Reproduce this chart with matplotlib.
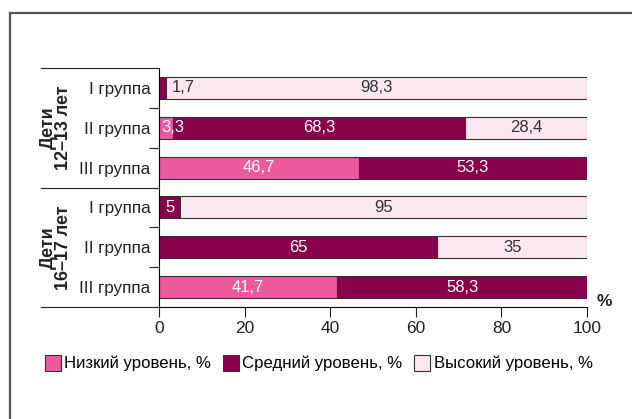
import matplotlib
matplotlib.use("Agg")
import matplotlib.pyplot as plt
from matplotlib.lines import Line2D
from matplotlib.patches import Patch
import numpy as np

plt.rcParams['font.family'] = ['Liberation Sans', 'DejaVu Sans']

# data
groups = ["Дети\n12–13 лет", "Дети\n16–17 лет"]
rows = ["I группа", "II группа", "III группа", "I группа", "II группа", "III группа"]
low = [0, 3.3, 46.7, 0, 0, 41.7]
mid = [1.7, 68.3, 53.3, 5, 65, 58.3]
high = [98.3, 28.4, 0, 95, 35, 0]
series_names = ["Низкий уровень, %", "Средний уровень, %", "Высокий уровень, %"]
xticks = [0, 20, 40, 60, 80, 100]

colors = ["#EC5A9D", "#8A004A", "#FCE7F0"]
text_colors = ["white", "white", "#333333"]

fig = plt.figure(figsize=(6.32, 4.19), dpi=100)
ax = fig.add_axes([159 / 632, 1 - 307 / 419, 428 / 632, 239 / 419])

y = np.arange(len(rows))
left = np.zeros(len(rows))
for vals, col, tcol in zip([low, mid, high], colors, text_colors):
    vals = np.array(vals, dtype=float)
    ax.barh(y, vals, left=left, height=0.55, color=col,
            edgecolor="#333333", linewidth=0.8)
    for yi, l, v in zip(y, left, vals):
        if v <= 0:
            continue
        lbl = f"{v:g}".replace(".", ",")
        if v < 2:
            ax.text(l + v + 1.3, yi, lbl, ha="left", va="center",
                    color="#333333", fontsize=12)
        elif v < 4:
            ax.text(l + 0.6, yi, lbl, ha="left", va="center",
                    color=tcol, fontsize=12)
        else:
            ax.text(l + v / 2, yi, lbl, ha="center", va="center",
                    color=tcol, fontsize=12)
    left = left + vals

ax.set_xlim(0, 100)
ax.set_ylim(len(rows) - 0.5, -0.5)
ax.set_xticks(xticks)
ax.set_xticklabels([str(t) for t in xticks], fontsize=12.5, color="#222222")
ax.set_yticks(y)
ax.set_yticklabels(rows, fontsize=12.3, color="#222222")
ax.tick_params(axis="y", length=0, pad=6)
ax.set_yticks([0.5, 1.5, 3.5, 4.5], minor=True)
ax.tick_params(axis="y", which="minor", length=7, width=0.8, color="#222222")
ax.tick_params(axis="x", length=7, width=0.8, color="#222222", pad=3)

for s in ["top", "right"]:
    ax.spines[s].set_visible(False)
ax.spines["left"].set_linewidth(0.8)
ax.spines["bottom"].set_linewidth(0.8)

# hierarchical label lines
x0 = (41 - 159) / 428
for yy in [-0.5, 2.5, 5.5]:
    ax.add_line(Line2D([x0, 0], [yy, yy], color="#222222", lw=0.8,
                       transform=ax.get_yaxis_transform(), clip_on=False))

# group labels
for g, yc in zip(groups, [1, 4]):
    ax.text((56 - 159) / 428, yc, g, rotation=90, ha="center", va="center",
            fontsize=13, fontweight="bold", linespacing=0.82,
            transform=ax.get_yaxis_transform(), color="#222222")

ax.text(1.023, 0.025, "%", transform=ax.transAxes, ha="left", va="center",
        fontsize=12.5, fontweight="bold", color="#222222")

# legend
handles = [Patch(facecolor=c, edgecolor="#333333", linewidth=0.8) for c in colors]
fig.legend(handles, series_names, loc="center left",
           bbox_to_anchor=(45 / 632, 1 - 363 / 419), ncol=3, frameon=False,
           fontsize=12.1, handlelength=0.95, handleheight=1.1, handletextpad=0.2,
           columnspacing=0.7, borderaxespad=0, borderpad=0)

# outer frame (only left and top edges visible)
fig.add_artist(Line2D([10 / 632, 10 / 632], [0, 1 - 13 / 419], color="#555555",
                      lw=1.6, transform=fig.transFigure))
fig.add_artist(Line2D([10 / 632, 1], [1 - 13 / 419, 1 - 13 / 419], color="#555555",
                      lw=1.6, transform=fig.transFigure))

fig.savefig("out.png", dpi=100)
